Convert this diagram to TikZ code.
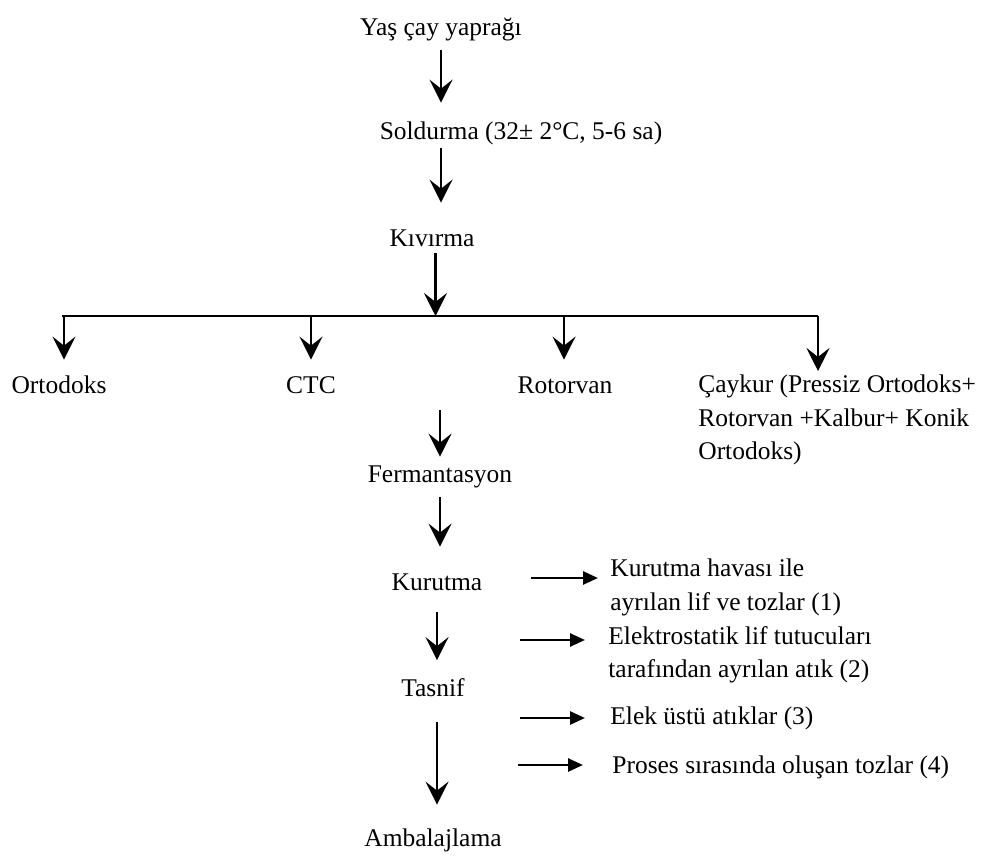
\documentclass[tikz,border=0pt]{standalone}
\usepackage{fontspec}
\setmainfont{Liberation Serif}
\usepackage{tikz}
\usetikzlibrary{arrows.meta,positioning}
\tikzset{
  stage/.style={inner sep=0pt, minimum height=8mm, align=center,
                font=\fontsize{14.5}{19}\selectfont},
  waste/.style={inner sep=0pt, align=left, anchor=west,
                font=\fontsize{14.5}{19}\selectfont},
  flow/.style={-{Stealth[length=4.6mm,width=4.6mm,inset=1.8mm]}, line width=1.6pt},
  sideflow/.style={-{Triangle[length=3mm,width=2.6mm]}, line width=1.5pt},
  branch/.style={black, line width=0.8pt},
}

\begin{document}
\begin{tikzpicture}[x=1cm,y=1cm]
  \path[use as bounding box] (0,0) rectangle (20,17.22);

  % Main line of the process.
  \node[stage] (yas) at (8.82,16.62) {Yaş çay yaprağı};
  \node[stage] (sold) at (10.42,14.56) {Soldurma (32± 2°C, 5-6 sa)};
  \node[stage] (kiv) at (8.64,12.46) {Kıvırma};

  \draw[flow, shorten >=2mm] (yas.south) -- (yas.south |- sold.north);
  \draw[flow, shorten <=-1mm, shorten >=3mm] (yas.south |- sold.south) -- (yas.south |- kiv.north);

  % Branching bar and the four rolling methods.
  \coordinate (barL) at (1.24,10.90);
  \coordinate (barR) at (16.36,10.90);
  \draw[branch] (barL) -- (barR);
  \draw[flow, shorten <=-1mm] ([xshift=0.7mm]kiv.south) -- ([xshift=0.7mm]kiv.south |- barL);

  \node[stage] (orto) at (1.18,9.52) {Ortodoks};
  \node[stage] (ctc) at (6.22,9.52) {CTC};
  \node[stage] (rotor) at (11.30,9.52) {Rotorvan};
  \node[waste] (caykur) at (13.96,8.82)
    {Çaykur (Pressiz Ortodoks+\\Rotorvan +Kalbur+ Konik\\Ortodoks)};

  \foreach \xx/\dest in {1.28/orto, 6.22/ctc, 11.28/rotor}{
    \draw[flow, shorten >=1mm] (\xx,10.90) -- (\xx,10.90 |- \dest.north);
  }
  \coordinate (cayTop) at (16.36,9.80);
  \draw[flow] (barR) -- (cayTop);

  % Fermentation, drying, sorting, packing.
  \node[stage] (ferm) at (8.80,7.68) {Fermantasyon};
  \node[stage] (kur) at (8.74,5.58) {Kurutma};
  \node[stage] (tas) at (8.66,3.46) {Tasnif};
  \node[stage] (amb) at (8.66,0.42) {Ambalajlama};

  \coordinate (fermIn) at (8.80,9.02);
  \draw[flow] (fermIn) -- (ferm.north);
  \draw[flow, shorten >=3mm] (ferm.south) -- (ferm.south |- kur.north);
  \draw[flow, shorten <=2mm, shorten >=1.5mm] (kur.south) -- (kur.south |- tas.north);
  \draw[flow, shorten <=2.8mm, shorten >=3mm] (kur.south |- tas.south) -- (kur.south |- amb.north);

  % Wastes taken out along the line.
  \node[waste] (w1) at (12.20,5.47) {Kurutma havası ile\\ayrılan lif ve tozlar (1)};
  \node[waste] (w2) at (12.16,4.12) {Elektrostatik lif tutucuları\\tarafından ayrılan atık (2)};
  \node[waste] (w3) at (12.20,2.86) {Elek üstü atıklar (3)};
  \node[waste] (w4) at (12.24,1.88) {Proses sırasında oluşan tozlar (4)};

  \foreach \n/\xx/\yy/\sh in {1/10.62/5.66/2.4mm, 2/10.40/4.42/4.6mm,
                              3/10.40/2.86/5mm, 4/10.36/1.92/5.8mm}{
    \coordinate (a\n) at (\xx,\yy);
    \draw[sideflow, shorten >=\sh] (a\n) -- (a\n -| w\n.west);
  }
\end{tikzpicture}
\end{document}
